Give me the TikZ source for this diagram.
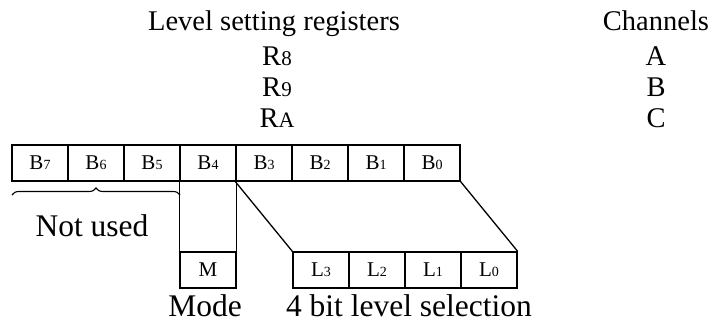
\documentclass[tikz,border=0pt]{standalone}
\usepackage{fontspec}
\setmainfont{Liberation Serif}
\usetikzlibrary{decorations.pathreplacing}
\newcommand{\cellB}[1]{{\fontsize{21}{21}\selectfont B}{\fontsize{14}{14}\selectfont #1}}
\newcommand{\cellL}[1]{{\fontsize{21}{21}\selectfont L}{\fontsize{14}{14}\selectfont #1}}
\begin{document}
\begin{tikzpicture}[x=1pt,y=-1pt,
  cellbox/.style={draw, line width=1.3pt, rectangle, minimum width=56pt, minimum height=36pt, inner sep=0pt},
  bigtext/.style={anchor=base, inner sep=0pt, font=\fontsize{28.5}{28.5}\selectfont},
  lowtext/.style={anchor=base, inner sep=0pt, font=\fontsize{31.5}{31.5}\selectfont},
  conn/.style={line width=1.3pt}]
\useasboundingbox (0,0) rectangle (717,324);
% top register row
\node[cellbox] (B7) at (40,163) {\cellB{7}};
\node[cellbox] (B6) at (96,163) {\cellB{6}};
\node[cellbox] (B5) at (152,163) {\cellB{5}};
\node[cellbox] (B4) at (208,163) {\cellB{4}};
\node[cellbox] (B3) at (264,163) {\cellB{3}};
\node[cellbox] (B2) at (320,163) {\cellB{2}};
\node[cellbox] (B1) at (376,163) {\cellB{1}};
\node[cellbox] (B0) at (432,163) {\cellB{0}};
% lower cells
\node[cellbox] (M) at (208,270) {{\fontsize{21}{21}\selectfont M}};
\node[cellbox] (L3) at (321,270) {\cellL{3}};
\node[cellbox] (L2) at (377,270) {\cellL{2}};
\node[cellbox] (L1) at (433,270) {\cellL{1}};
\node[cellbox] (L0) at (489,270) {\cellL{0}};
% connectors
\draw[conn] (B4.south west) -- (M.north west);
\draw[conn] (B4.south east) -- (M.north east);
\draw[conn] (B3.south west) -- (L3.north west);
\draw[conn] (B0.south east) -- (L0.north east);
% brace
\coordinate (brl) at (12,195);
\coordinate (brr) at (180,195);
\draw[line width=1.1pt, decorate, decoration={brace, amplitude=7pt}] (brl) -- (brr);
% labels
\node[bigtext] (title) at (274,30) {Level setting registers};
\node[bigtext] (r8) at (277,65) {R{\fontsize{21}{21}\selectfont 8}};
\node[bigtext] (r9) at (277,96) {R{\fontsize{21}{21}\selectfont 9}};
\node[bigtext] (ra) at (277,127) {R{\fontsize{22}{22}\selectfont A}};
\node[bigtext] (chan) at (656,30) {Channels};
\node[bigtext] (cha) at (656,65) {A};
\node[bigtext] (chb) at (656,96) {B};
\node[bigtext] (chc) at (656,127) {C};
\node[lowtext] (notused) at (92,236) {Not used};
\node[lowtext] (mode) at (205,316) {Mode};
\node[lowtext] (sel) at (409,316) {4 bit level selection};
\end{tikzpicture}
\end{document}
